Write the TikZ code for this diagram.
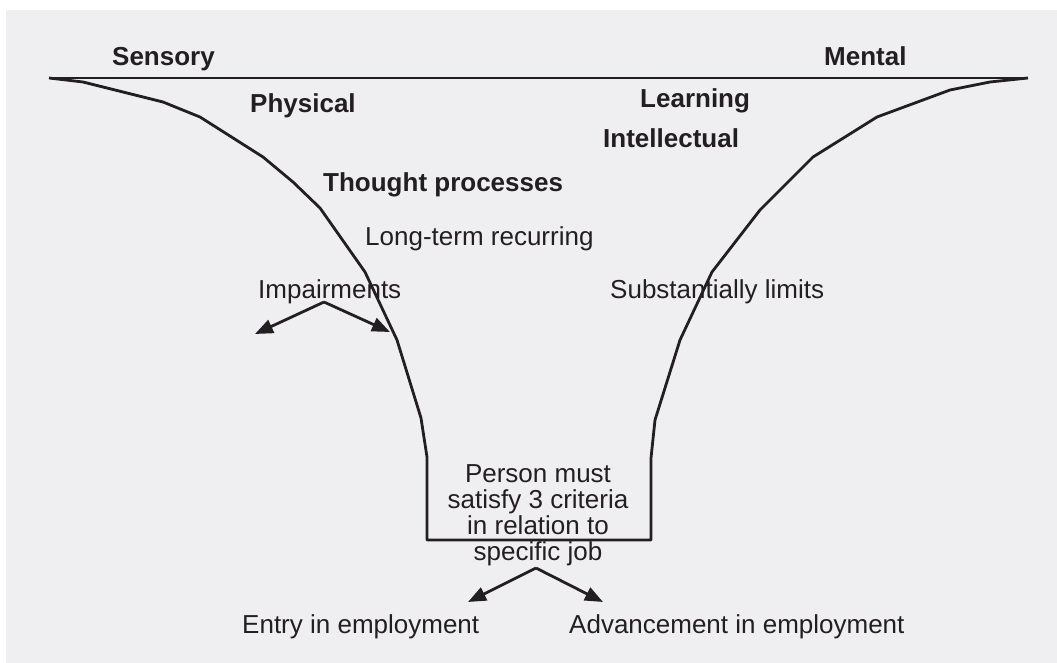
\documentclass[tikz,border=0pt]{standalone}
\usepackage{fontspec}
\setmainfont{Liberation Sans}
\usetikzlibrary{arrows.meta}
\definecolor{ink}{HTML}{231F20}
\definecolor{bg}{HTML}{EFEFF1}
\tikzset{
  lbl/.style={anchor=base west, inner sep=0pt, text=ink, font=\fontsize{26}{26}\selectfont},
  blbl/.style={lbl, font=\fontsize{26}{26}\selectfont\bfseries},
  funnel/.style={draw=ink, line width=2.8pt, line join=round},
  arr/.style={draw=ink, line width=2.8pt, -{Triangle[length=18pt,width=14pt]}}
}
\begin{document}
\begin{tikzpicture}[x=1pt,y=-1pt]
\useasboundingbox (0,0) rectangle (1057,663);
\fill[bg] (6,10) rectangle (1057,663);
% funnel
\draw[funnel] (49,78) -- (1028,78);
\draw[funnel] (49,78) -- (83,82) -- (163,102) -- (200,117) -- (263,157) -- (293,182) -- (320,208)
  -- (365,272) -- (397,340) -- (421,418) -- (427,457) -- (427,540) -- (651,540) -- (651,458)
  -- (655,420) -- (680,340) -- (712,272) -- (760,210) -- (813,157) -- (877,117) -- (950,90)
  -- (990,82) -- (1028,78);
% labels
\node[blbl] (sensory) at (112,66) {Sensory};
\node[blbl] (mental) at (824,66) {Mental};
\node[blbl] (physical) at (250,113) {Physical};
\node[blbl] (learning) at (640,108) {Learning};
\node[blbl] (intellectual) at (603,148) {Intellectual};
\node[blbl] (thought) at (323,192) {Thought processes};
\node[lbl] (longterm) at (365,245) {Long-term recurring};
\node[lbl] (impair) at (258,298) {Impairments};
\node[lbl] (subst) at (610,298) {Substantially limits};
\node[lbl, anchor=base, align=center] (person) at (538,560)
  {Person must\\satisfy 3 criteria\\in relation to\\specific job};
\node[lbl] (entry) at (242,633) {Entry in employment};
\node[lbl] (adv) at (569,633) {Advancement in employment};
% arrows
\coordinate (ia) at (324,302);
\coordinate (il) at (255,334);
\coordinate (ir) at (390,332);
\coordinate (pa) at (536,568);
\coordinate (pl) at (468,602);
\coordinate (pr) at (603,602);
\draw[arr] (ia) -- (il);
\draw[arr] (ia) -- (ir);
\draw[arr] (pa) -- (pl);
\draw[arr] (pa) -- (pr);
\end{tikzpicture}
\end{document}
